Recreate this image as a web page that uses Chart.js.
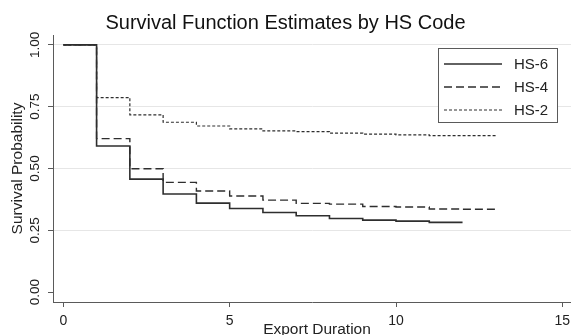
<!DOCTYPE html>
<html>
<head>
<meta charset="utf-8">
<script src="https://cdn.jsdelivr.net/npm/chart.js@4.4.1/dist/chart.umd.min.js"></script>
<style>
  html, body { margin: 0; padding: 0; background: #fff; }
  #wrap { width: 571px; height: 335px; position: relative; }
</style>
</head>
<body>
<div id="wrap"><canvas id="c" width="571" height="335"></canvas></div>
<script>
// ---- data ----
const chartTitle = "Survival Function Estimates by HS Code";
const xTitle = "Export Duration";
const yTitle = "Survival Probability";
const hs6Time = [0, 1, 2, 3, 4, 5, 6, 7, 8, 9, 10, 11, 12];
const hs6Surv = [1.0, 0.591, 0.457, 0.397, 0.360, 0.338, 0.322, 0.309, 0.298, 0.291, 0.287, 0.282, 0.282];
const hs4Time = [0, 1, 2, 3, 4, 5, 6, 7, 8, 9, 10, 11, 12, 13];
const hs4Surv = [1.0, 0.621, 0.499, 0.444, 0.409, 0.389, 0.372, 0.359, 0.356, 0.346, 0.344, 0.336, 0.335, 0.335];
const hs2Time = [0, 1, 2, 3, 4, 5, 6, 7, 8, 9, 10, 11, 12, 13];
const hs2Surv = [1.0, 0.787, 0.717, 0.687, 0.672, 0.660, 0.652, 0.649, 0.643, 0.639, 0.636, 0.633, 0.633, 0.633];
const xTicks = [0, 5, 10, 15];
const yTicks = [0, 0.25, 0.5, 0.75, 1.0];
const yTickLabels = ["0.00", "0.25", "0.50", "0.75", "1.00"];

const FONT = "'Liberation Sans', Arial, Helvetica, sans-serif";
const INK = "#2e2e2e";
const AXIS = "#5a5a5a";

function pts(t, s) { return t.map((v, i) => ({ x: v, y: s[i] })); }

const customDraw = {
  id: 'customDraw',
  afterDraw(chart) {
    const ctx = chart.ctx;
    const ys = chart.scales.y;
    const ca = chart.chartArea;
    ctx.save();
    // rotated y tick labels
    ctx.fillStyle = "#222";
    ctx.font = "13.5px " + FONT;
    ctx.textAlign = "center";
    ctx.textBaseline = "middle";
    yTicks.forEach((v, i) => {
      const py = ys.getPixelForValue(v);
      ctx.save();
      ctx.translate(35, py);
      ctx.rotate(-Math.PI / 2);
      ctx.fillText(yTickLabels[i], 0, 0);
      ctx.restore();
    });
    // y title
    ctx.save();
    ctx.font = "15.5px " + FONT;
    ctx.translate(18, (ca.top + ca.bottom) / 2);
    ctx.rotate(-Math.PI / 2);
    ctx.fillText(yTitle, 0, 0);
    ctx.restore();
    // x title
    ctx.font = "15.5px " + FONT;
    ctx.fillText(xTitle, 317, 330);

    // legend box
    const bx = 438, by = 48, bw = 119, bh = 74;
    ctx.fillStyle = "#fff";
    ctx.fillRect(bx, by, bw, bh);
    ctx.strokeStyle = AXIS;
    ctx.lineWidth = 1;
    ctx.strokeRect(bx + 0.5, by + 0.5, bw, bh);
    const rows = [64, 87, 110];
    chart.data.datasets.forEach((ds, i) => {
      const y = rows[i];
      ctx.beginPath();
      ctx.setLineDash(ds.borderDash || []);
      ctx.strokeStyle = ds.borderColor;
      ctx.lineWidth = ds.borderWidth;
      ctx.moveTo(444, y);
      ctx.lineTo(502, y);
      ctx.stroke();
      ctx.setLineDash([]);
      ctx.fillStyle = "#222";
      ctx.textAlign = "left";
      ctx.font = "15px " + FONT;
      ctx.fillText(ds.label, 514, y + 1);
    });
    ctx.restore();
  }
};

new Chart(document.getElementById('c'), {
  type: 'line',
  data: {
    datasets: [
      { label: 'HS-6', data: pts(hs6Time, hs6Surv), stepped: 'before', borderColor: INK, borderWidth: 1.6, pointRadius: 0, fill: false },
      { label: 'HS-4', data: pts(hs4Time, hs4Surv), stepped: 'before', borderColor: INK, borderWidth: 1.4, borderDash: [8, 4], pointRadius: 0, fill: false },
      { label: 'HS-2', data: pts(hs2Time, hs2Surv), stepped: 'before', borderColor: INK, borderWidth: 1.2, borderDash: [3, 2], pointRadius: 0, fill: false }
    ]
  },
  options: {
    responsive: false,
    animation: false,
    layout: { padding: 0 },
    plugins: {
      legend: { display: false },
      tooltip: { enabled: false },
      title: {
        display: true,
        text: chartTitle,
        color: '#111',
        font: { family: FONT, size: 20, weight: 'normal', lineHeight: 1.2 },
        padding: { top: 11, bottom: 0 }
      }
    },
    scales: {
      x: {
        type: 'linear',
        min: -0.31,
        max: 15.26,
        afterBuildTicks(s) { s.ticks = xTicks.map(v => ({ value: v })); },
        afterFit(s) { s.height = 33; s.paddingLeft = 0; s.paddingRight = 0; },
        ticks: { color: '#222', font: { family: FONT, size: 14 }, padding: 6, maxRotation: 0, autoSkip: false },
        grid: { drawOnChartArea: false, tickLength: 5, tickColor: AXIS },
        border: { color: AXIS, width: 1 }
      },
      y: {
        type: 'linear',
        min: -0.04,
        max: 1.04,
        afterBuildTicks(s) { s.ticks = yTicks.map(v => ({ value: v })); },
        afterFit(s) { s.width = 53; s.paddingTop = 0; s.paddingBottom = 0; },
        ticks: { display: false },
        grid: {
          color: (c) => (c.tick && c.tick.value === 0) ? 'rgba(0,0,0,0)' : '#e6e6e6',
          tickLength: 5, tickColor: AXIS, lineWidth: 1
        },
        border: { color: AXIS, width: 1 }
      }
    }
  },
  plugins: [customDraw]
});
</script>
</body>
</html>
